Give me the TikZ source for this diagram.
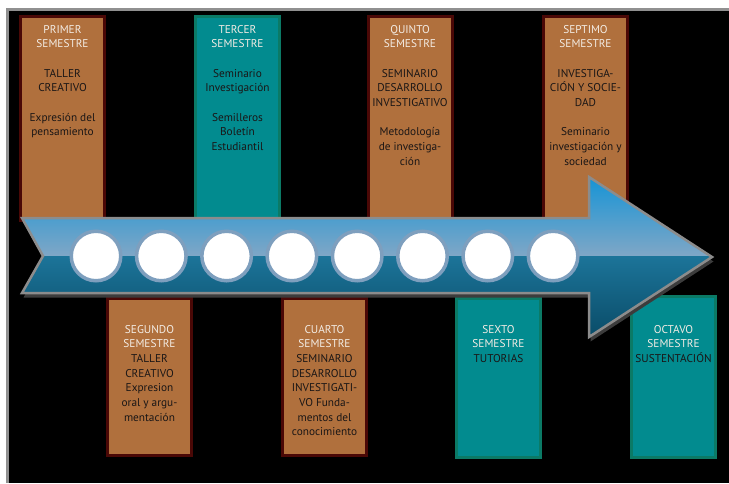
\documentclass[tikz,border=0pt]{standalone}
\usepackage{fontspec}
\setmainfont{PT Sans}
\definecolor{brownf}{HTML}{B0703D}
\definecolor{browne}{HTML}{4A0806}
\definecolor{tealf}{HTML}{028B8F}
\definecolor{teale}{HTML}{0B7A66}
\definecolor{headc}{HTML}{F3ECE4}
\definecolor{bodyc}{HTML}{1A1616}
\definecolor{framec}{HTML}{909090}
\definecolor{arrowedge}{HTML}{8C8C8C}
\definecolor{shadowc}{HTML}{3C3C3C}
\definecolor{ringc}{HTML}{7E9FBE}
\newcommand\hd[1]{\textcolor{headc}{#1}}
\newcommand\boxtext[1]{\parbox[t]{120pt}{\centering\fontsize{11.3}{14.7}\selectfont #1}}
\tikzset{
  brownbox/.style={rectangle, fill=brownf, draw=browne, line width=3pt, minimum width=84pt, inner sep=0pt, outer sep=0pt},
  tealbox/.style={rectangle, fill=tealf, draw=teale, line width=3pt, minimum width=84pt, inner sep=0pt, outer sep=0pt},
  boxlabel/.style={anchor=base, inner sep=0pt, text=bodyc},
  dot/.style={circle, fill=white, draw=ringc, line width=3.5pt, minimum size=49.5pt, inner sep=0pt},
}
\begin{document}
\begin{tikzpicture}[x=1pt,y=-1pt]
\useasboundingbox (0,0) rectangle (729,483);
\fill[white] (0,0) rectangle (729,483);
\fill[framec] (6,8) rectangle (729,483);
\fill[black] (9,11) rectangle (729,483);

% top boxes
\node[brownbox, minimum height=204pt] (b1) at (62.5,118.5) {};
\node[tealbox,  minimum height=204pt] (b3) at (237.5,118.5) {};
\node[brownbox, minimum height=204pt] (b5) at (410,118.5) {};
\node[brownbox, minimum height=204pt] (b7) at (585.5,118.5) {};
% bottom boxes
\node[brownbox, minimum height=157pt] (b2) at (149.5,377) {};
\node[brownbox, minimum height=157pt] (b4) at (324.5,377) {};
\node[tealbox,  minimum height=159pt] (b6) at (498.5,378) {};
\node[tealbox,  minimum height=161pt] (b8) at (673.5,377) {};

% arrow
\def\arrowpath{(22,218) -- (589,218) -- (589,177) -- (712,257) -- (589,337) -- (589,293) -- (22,293) -- (43,256) -- cycle}
\fill[shadowc, shift={(1.5,4.5)}] \arrowpath;
\begin{scope}
  \clip \arrowpath;
  \shade[top color={rgb,255:red,22;green,148;blue,214}, middle color={rgb,255:red,62;green,137;blue,186}, bottom color={rgb,255:red,128;green,167;blue,198}] (20,177) rectangle (715,256.5);
  \shade[top color={rgb,255:red,28;green,116;blue,153}, bottom color={rgb,255:red,9;green,74;blue,102}] (20,256.5) rectangle (715,340);
\end{scope}
\draw[arrowedge, line width=2.5pt, line join=miter] \arrowpath;

% circles
\foreach \i in {0,...,7} {
  \node[dot] (c\i) at ({96+65.3*\i},256) {};
}

% texts
\node[boxlabel] (t1) at (62.5,33) {\boxtext{\hd{PRIMER}\\\hd{SEMESTRE}\\[14.7pt]TALLER\\CREATIVO\\[14.7pt]Expresión del\\pensamiento}};
\node[boxlabel] (t3) at (237.5,33) {\boxtext{\hd{TERCER}\\\hd{SEMESTRE}\\[14.7pt]Seminario\\Investigación\\[14.7pt]Semilleros\\Boletín\\Estudiantil}};
\node[boxlabel] (t5) at (410,33) {\boxtext{\hd{QUINTO}\\\hd{SEMESTRE}\\[14.7pt]SEMINARIO\\DESARROLLO\\INVESTIGATIVO\\[14.7pt]Metodología\\de investiga-\\ción}};
\node[boxlabel] (t7) at (585.5,33) {\boxtext{\hd{SEPTIMO}\\\hd{SEMESTRE}\\[14.7pt]INVESTIGA-\\CIÓN Y SOCIE-\\DAD\\[14.7pt]Seminario\\investigación y\\sociedad}};

\node[boxlabel] (t2) at (149.5,333) {\boxtext{\hd{SEGUNDO}\\\hd{SEMESTRE}\\TALLER\\CREATIVO\\Expresion\\oral y argu-\\mentación}};
\node[boxlabel] (t4) at (324.5,333) {\boxtext{\hd{CUARTO}\\\hd{SEMESTRE}\\SEMINARIO\\DESARROLLO\\INVESTIGATI-\\VO Funda-\\mentos del\\conocimiento}};
\node[boxlabel] (t6) at (498.5,333) {\boxtext{\hd{SEXTO}\\\hd{SEMESTRE}\\TUTORIAS}};
\node[boxlabel] (t8) at (673.5,333) {\boxtext{\hd{OCTAVO}\\\hd{SEMESTRE}\\SUSTENTACIÓN}};
\end{tikzpicture}
\end{document}
